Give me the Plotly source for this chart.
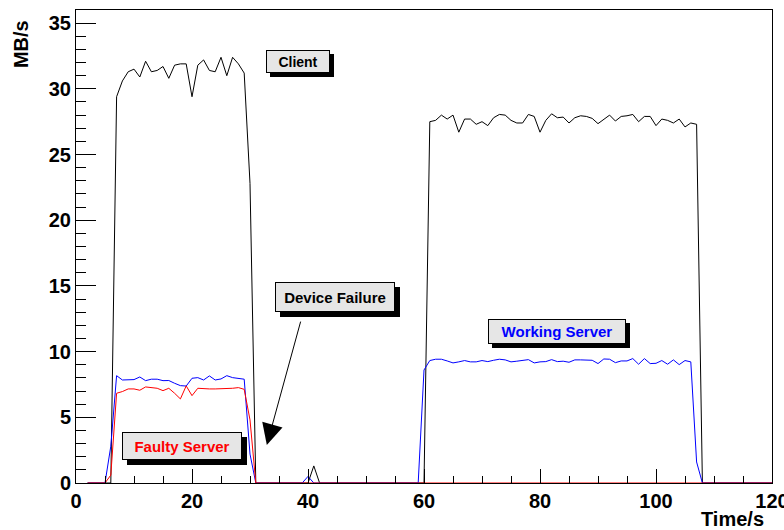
import plotly.graph_objects as go

# ---------------- data (MB/s vs time in s) ----------------
client_time = [2, 6] + list(range(7, 30)) + [30, 31, 40, 41, 42, 60] + list(range(61, 108)) + [108, 120]
client_vals = ([0, 0]
               + [29.4, 30.6, 31.3, 31.5, 30.9, 32.1, 31.3, 31.4, 31.7, 30.8, 31.8, 31.9,
                  31.9, 29.4, 31.8, 32.2, 31.4, 31.3, 32.4, 31.0, 32.4, 31.9, 31.2]
               + [22.8, 0, 0, 1.3, 0, 0]
               + [27.5, 27.6, 28.0, 27.7, 28.0, 26.7, 27.7, 27.7, 27.3, 27.5, 27.2, 27.8,
                  28.05, 28.0, 27.6, 27.4, 27.4, 28.05, 27.9, 26.7, 27.6, 28.1, 27.8, 27.85,
                  27.4, 27.8, 27.95, 27.9, 27.75, 27.35, 27.65, 28.0, 27.55, 27.9, 27.95,
                  28.05, 27.5, 27.9, 27.9, 27.2, 27.7, 27.6, 27.4, 27.7, 27.1, 27.4, 27.3]
               + [0, 0])

working_time = [2, 5, 6] + list(range(7, 30)) + [30, 31, 39, 40, 41, 59, 60] + list(range(61, 107)) + [107, 108, 120]
working_vals = ([0, 0, 2.8]
                + [8.17, 7.84, 7.87, 7.87, 8.07, 7.79, 7.9, 7.9, 7.79, 7.8, 7.59, 7.41,
                   7.38, 7.97, 8.02, 7.84, 8.15, 7.84, 7.92, 8.17, 8.02, 7.97, 7.9]
                + [2.2, 0, 0, 0.5, 0, 0, 8.6]
                + [9.32, 9.42, 9.42, 9.29, 9.14, 9.22, 9.32, 9.22, 9.22, 9.32, 9.24, 9.34,
                   9.42, 9.37, 9.22, 9.27, 9.32, 9.39, 9.14, 9.22, 9.24, 9.39, 9.24, 9.27,
                   9.19, 9.37, 9.37, 9.37, 9.34, 9.09, 9.44, 9.42, 9.16, 9.29, 9.29, 9.47,
                   9.04, 9.47, 9.09, 9.11, 9.32, 9.04, 9.37, 9.01, 9.32, 9.22]
                + [1.6, 0, 0])

faulty_time = [2, 5, 6] + list(range(7, 30)) + [30, 31, 120]
faulty_vals = ([0, 0, 0.6]
               + [6.83, 6.96, 7.16, 7.16, 7.06, 7.31, 7.26, 7.21, 7.03, 7.21, 6.83, 6.4,
                  7.39, 6.65, 7.21, 7.16, 7.16, 7.16, 7.16, 7.18, 7.21, 7.26, 7.13]
               + [4.8, 0, 0])

x_ticks = [0, 20, 40, 60, 80, 100, 120]
y_ticks = [0, 5, 10, 15, 20, 25, 30, 35]

FONT = "Liberation Sans"

fig = go.Figure()
fig.add_trace(go.Scatter(x=client_time, y=client_vals, mode="lines",
                         line=dict(color="black", width=1), name="Client"))
fig.add_trace(go.Scatter(x=working_time, y=working_vals, mode="lines",
                         line=dict(color="#0000ff", width=1), name="Working Server"))
fig.add_trace(go.Scatter(x=faulty_time, y=faulty_vals, mode="lines",
                         line=dict(color="#ff0000", width=1), name="Faulty Server"))

tickfont = dict(family=FONT, size=20, color="black", weight="bold")

fig.update_xaxes(range=[0, 120], tickvals=x_ticks, ticktext=[str(v) for v in x_ticks],
                 ticks="inside", ticklen=14, tickwidth=1, tickcolor="black",
                 minor=dict(ticks="inside", ticklen=7, dtick=5, tickcolor="black", tickwidth=1),
                 showline=True, linecolor="black", linewidth=1, mirror=True,
                 showgrid=False, zeroline=False, tickfont=tickfont)
fig.update_yaxes(range=[0, 36], tickvals=y_ticks, ticktext=[str(v) for v in y_ticks],
                 ticks="inside", ticklen=20, tickwidth=1, tickcolor="black",
                 minor=dict(ticks="inside", ticklen=10, dtick=1, tickcolor="black", tickwidth=1),
                 showline=True, linecolor="black", linewidth=1, mirror=True,
                 showgrid=False, zeroline=False, tickfont=tickfont)

annotations = []

def label(text, cx, cy, w, h, color, shift, size):
    # drop shadow (empty box)
    annotations.append(dict(x=cx, y=cy, xref="x", yref="y", text="&nbsp;", showarrow=False,
                            width=w, height=h, bgcolor="black", bordercolor="black",
                            borderwidth=1, borderpad=0, xshift=shift, yshift=-shift,
                            font=dict(family=FONT, size=size, color="black")))
    # box
    annotations.append(dict(x=cx, y=cy, xref="x", yref="y", text=text, showarrow=False,
                            width=w, height=h, bgcolor="#e6e6e6", bordercolor="black",
                            borderwidth=1, borderpad=0,
                            font=dict(family=FONT, size=size, color=color, weight="bold")))

label("Client", 38.2, 32.1, 62, 21, "black", 4, 14)
label("Device Failure", 44.7, 14.19, 118, 28, "black", 5, 15)
label("Faulty Server", 18.36, 2.83, 118, 26, "#ff0000", 5, 15)
label("Working Server", 83.0, 11.54, 136, 23, "#0000ff", 4, 15)

annotations.append(dict(x=32.9, y=2.9, ax=38.8, ay=12.4, xref="x", yref="y",
                        axref="x", ayref="y", text="", showarrow=True,
                        arrowhead=2, arrowsize=4.2, arrowwidth=1, arrowcolor="black"))

annotations.append(dict(x=-0.079, y=0.983, xref="paper", yref="paper", text="MB/s",
                        textangle=-90, showarrow=False, xanchor="center", yanchor="top",
                        font=dict(family=FONT, size=20, color="black", weight="bold")))
annotations.append(dict(x=0.991, y=-0.076, xref="paper", yref="paper", text="Time/s",
                        showarrow=False, xanchor="right", yanchor="middle",
                        font=dict(family=FONT, size=20, color="black", weight="bold")))

# figure is slightly wider than the window so the "120" label is clipped like the original
fig.update_layout(width=800, height=530, margin=dict(l=76, r=28, t=10, b=47),
                  paper_bgcolor="white", plot_bgcolor="white", showlegend=False,
                  annotations=annotations)

fig.write_html("out.html", config={"displayModeBar": False},
               post_script="document.body.style.margin='0';document.body.style.overflow='hidden';")
